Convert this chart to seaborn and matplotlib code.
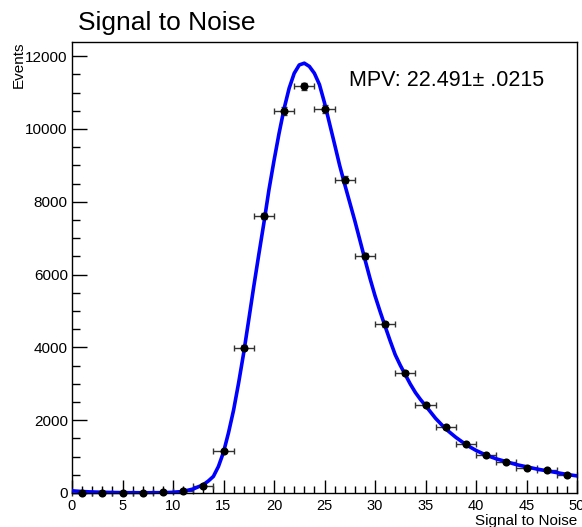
import numpy as np
import pandas as pd
import matplotlib
matplotlib.use("Agg")
import matplotlib.pyplot as plt
import seaborn as sns

# ---- data ----
bin_centers = [1, 3, 5, 7, 9, 11, 13, 15, 17, 19, 21, 23, 25,
               27, 29, 31, 33, 35, 37, 39, 41, 43, 45, 47, 49]
counts = [0, 0, 0, 0, 35, 55, 180, 1160, 3990, 7605, 10500, 11170, 10545,
          8610, 6520, 4640, 3300, 2430, 1800, 1345, 1050, 850, 700, 640, 500]

fit_x = [0, 1, 2, 3, 4, 5, 6, 7, 8, 9, 10, 11, 12, 13, 13.5, 14, 14.5, 15,
         15.5, 16, 16.5, 17, 17.5, 18, 18.5, 19, 19.5, 20, 20.5, 21, 21.5,
         22, 22.5, 23, 23.5, 24, 24.5, 25, 25.5, 26, 26.5, 27, 27.5, 28,
         28.5, 29, 29.5, 30, 30.5, 31, 31.5, 32, 32.5, 33, 33.5, 34, 34.5,
         35, 36, 37, 38, 39, 40, 41, 42, 43, 44, 45, 46, 47, 48, 49, 50]
fit_y = [60, 40, 28, 20, 14, 10, 8, 7, 8, 10, 18, 44, 110, 228, 330, 456,
         730, 1120, 1660, 2280, 3030, 3850, 4760, 5680, 6560, 7420, 8330,
         9130, 9880, 10560, 11120, 11530, 11760, 11808, 11720, 11530, 11220,
         10720, 10150, 9580, 9000, 8480, 7980, 7480, 6950, 6420, 5900, 5420,
         4990, 4580, 4180, 3800, 3510, 3250, 2990, 2760, 2570, 2400, 2050,
         1760, 1530, 1330, 1170, 1040, 940, 860, 780, 720, 660, 610, 560,
         510, 470]

title = "Signal to Noise"
x_label = "Signal to Noise"
y_label = "Events"
mpv_text = "MPV: 22.491\u00b1 .0215"

sns.set_style("ticks")
plt.rcParams['font.family'] = ['Liberation Sans', 'DejaVu Sans']
plt.rcParams['text.color'] = 'black'

fig = plt.figure(figsize=(5.82, 5.27), dpi=100)
ax = fig.add_axes([72/582, 1-493/527, (577-72)/582, (493-42)/527])

df_pts = pd.DataFrame({"x": bin_centers, "y": counts})
df_fit = pd.DataFrame({"x": fit_x, "y": fit_y})

ax.errorbar(df_pts["x"], df_pts["y"], xerr=1.0, yerr=np.sqrt(df_pts["y"]),
            fmt="none", ecolor="#333333", elinewidth=1.0, capsize=2,
            capthick=1.0, zorder=2, clip_on=False)
sns.lineplot(data=df_fit, x="x", y="y", ax=ax, color="#0000ff",
             linewidth=2.6, zorder=3, sort=True)
sns.scatterplot(data=df_pts, x="x", y="y", ax=ax, color="black", s=34,
                edgecolor="black", linewidth=0, zorder=4, clip_on=False)

ax.set_xlim(0, 50)
ax.set_ylim(0, 12390)
ax.set_xticks([0, 5, 10, 15, 20, 25, 30, 35, 40, 45, 50])
ax.set_xticks(np.arange(0, 51, 1), minor=True)
ax.set_yticks([0, 2000, 4000, 6000, 8000, 10000, 12000])
ax.set_yticks(np.arange(0, 12001, 500), minor=True)
ax.set_xlabel("")
ax.set_ylabel("")

for s in ax.spines.values():
    s.set_visible(True)
    s.set_color("black")
    s.set_linewidth(1.0)

ax.tick_params(axis="x", which="major", direction="in", length=9.5, width=1,
               labelsize=10.5, pad=4, colors="black", top=False)
ax.tick_params(axis="x", which="minor", direction="in", length=5, width=1,
               colors="black", top=False)
ax.tick_params(axis="y", which="major", direction="in", length=11, width=1,
               labelsize=11, pad=3, colors="black", right=False)
ax.tick_params(axis="y", which="minor", direction="in", length=5.5, width=1,
               colors="black", right=False)

fig.text(78/582, 1-30/527, title, fontsize=19, color="black",
         ha="left", va="baseline")
fig.text(577/582, 1-525/527, x_label, fontsize=11, color="black",
         ha="right", va="baseline")
fig.text(19/582, 1-42/527, y_label, fontsize=11, rotation=90,
         color="black", ha="center", va="top")
fig.text(349/582, 1-86/527, mpv_text, fontsize=15.5, color="black",
         ha="left", va="baseline")

fig.savefig("out.png", dpi=100)
